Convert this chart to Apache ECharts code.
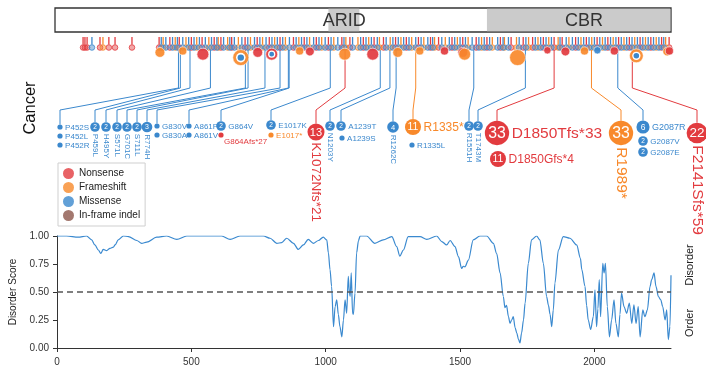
<!DOCTYPE html>
<html>
<head>
<meta charset="utf-8">
<script src="https://cdn.jsdelivr.net/npm/echarts@6/dist/echarts.min.js"></script>
<style>
html, body { margin: 0; padding: 0; background: #fff; }
#main { width: 706px; height: 367px; }
</style>
</head>
<body>
<div id="main"></div>
<script>
// ---- data ----
var proteinLength = 2285;
var xTicks = [0, 500, 1000, 1500, 2000];
var yTicks = [0, 0.25, 0.5, 0.75, 1.0];

var domainNames = ['ARID', 'CBR'];
var domainStart = [1010, 1600];
var domainEnd = [1128, 2285];

var mutTypes = ['Nonsense', 'Frameshift', 'Missense', 'In-frame indel'];

// small mutation ticks along the protein
var stemNonsense = [97, 104, 112, 160, 193, 216, 279, 380, 420, 455, 500, 540, 585, 610, 650, 700, 745, 790, 830, 880, 920, 965,
	1010, 1060, 1090, 1140, 1180, 1215, 1260, 1300, 1345, 1390, 1420, 1470, 1510, 1560, 1600, 1650, 1690, 1735, 1770, 1810,
	1850, 1880, 1930, 1970, 2010, 2050, 2090, 2130, 2170, 2210, 2250, 2278];
var stemFrameshift = [171, 395, 440, 480, 520, 565, 600, 635, 675, 720, 765, 810, 850, 900, 940, 985, 1030, 1075, 1120, 1160,
	1200, 1240, 1280, 1320, 1365, 1405, 1445, 1490, 1530, 1580, 1620, 1665, 1710, 1755, 1790, 1830, 1865, 1905, 1950, 1990,
	2030, 2070, 2110, 2150, 2190, 2230, 2265];
var stemMissense = [130, 388, 405, 430, 448, 468, 490, 510, 530, 552, 575, 595, 620, 643, 660, 688, 710, 735, 755, 778, 800,
	820, 840, 865, 890, 910, 930, 955, 975, 998, 1020, 1045, 1068, 1100, 1130, 1150, 1170, 1192, 1225, 1250, 1270, 1290, 1310,
	1335, 1355, 1380, 1398, 1432, 1460, 1480, 1500, 1520, 1545, 1570, 1590, 1610, 1640, 1660, 1680, 1720, 1745, 1780, 1800,
	1820, 1840, 1872, 1895, 1918, 1940, 1960, 1980, 2000, 2020, 2040, 2060, 2080, 2100, 2120, 2140, 2160, 2180, 2200, 2220,
	2240, 2258];

// recurrent positions drawn as bubbles on the track (-1 = no inner dot)
var bubbleRes = [383, 468, 543, 684, 747, 799, 903, 941, 1071, 1175, 1268, 1350, 1442, 1510, 1517, 1714, 1825, 1892, 1963, 2011, 2074, 2156, 2271, 2279];
var bubbleType = [1, 1, 0, 1, 0, 0, 1, 0, 1, 0, 1, 1, 0, 0, 1, 1, 0, 0, 1, 2, 0, 1, 1, 0];
var bubbleCount = [6, 3, 11, 25, 6, 11, 3, 4, 11, 11, 6, 3, 3, 6, 11, 25, 2, 4, 3, 2, 3, 17, 4, 3];
var bubbleCore = [-1, -1, -1, 2, -1, 2, -1, -1, -1, -1, -1, -1, -1, -1, -1, -1, -1, -1, -1, -1, -1, 2, -1, -1];

// labelled hotspots
var hotResidue = [452, 459, 495, 571, 701, 711, 774, 830, 861, 864, 1017, 1072, 1203, 1239, 1262, 1335, 1551, 1743, 1850, 1989, 2087, 2141];
var hotLabels = [
	['P452S', 'P452L', 'P452R'], ['P459L'], ['H495Y'], ['S571L'], ['G701C'], ['S711L'], ['R774H'],
	['G830V', 'G830A'], ['A861P', 'A861V'], ['G864V', 'G864Afs*27'], ['E1017K', 'E1017*'], ['K1072Nfs*21'],
	['N1203Y'], ['A1239T', 'A1239S'], ['R1262C'], ['R1335*', 'R1335L'], ['R1551H'], ['T1743M'],
	['D1850Tfs*33', 'D1850Gfs*4'], ['R1989*'], ['G2087R', 'G2087V', 'G2087E'], ['F2141Sfs*59']
];
var hotCounts = [
	[1, 1, 1], [2], [2], [2], [2], [2], [3], [1, 1], [1, 1], [2, 1], [2, 1], [13],
	[2], [2, 1], [4], [11, 1], [2], [2], [33, 11], [33], [6, 2, 2], [22]
];
var hotTypes = [
	[2, 2, 2], [2], [2], [2], [2], [2], [2], [2, 2], [2, 2], [2, 0], [2, 1], [0],
	[2], [2, 2], [2], [1, 2], [2], [2], [0, 0], [1], [2, 2, 2], [0]
];

// disorder prediction
var disorderPos = [0, 36, 79, 110, 129, 141, 154, 163, 172, 185, 197, 210, 216, 228, 247, 266, 297, 315, 334, 371, 408, 446,
	483, 557, 613, 644, 681, 768, 793, 818, 836, 855, 880, 898, 917, 935, 954, 973, 991, 1004, 1010, 1016, 1022, 1029, 1035,
	1041, 1047, 1053, 1060, 1066, 1072, 1078, 1084, 1088, 1091, 1095, 1100, 1103, 1109, 1115, 1122, 1128, 1152, 1183, 1214,
	1246, 1264, 1276, 1289, 1307, 1351, 1376, 1413, 1432, 1450, 1463, 1481, 1494, 1506, 1512, 1518, 1531, 1549, 1574, 1599,
	1624, 1636, 1649, 1661, 1667, 1673, 1680, 1686, 1692, 1698, 1705, 1711, 1717, 1723, 1729, 1736, 1742, 1754, 1766, 1785,
	1797, 1810, 1822, 1829, 1835, 1841, 1847, 1853, 1866, 1884, 1909, 1934, 1948, 1953, 1965, 1971, 1977, 1986, 1996, 2002,
	2008, 2013, 2018, 2023, 2031, 2036, 2041, 2048, 2056, 2064, 2073, 2080, 2089, 2095, 2101, 2110, 2120, 2130, 2139, 2147,
	2155, 2163, 2170, 2180, 2188, 2197, 2207, 2213, 2222, 2229, 2238, 2247, 2254, 2263, 2269, 2275, 2281, 2285];
var disorderScore = [1.0, 1.0, 0.99, 1.0, 0.965, 0.92, 0.875, 0.845, 0.88, 0.87, 0.89, 0.90, 0.92, 0.965, 1.0, 0.995, 0.96,
	0.935, 0.945, 0.99, 1.0, 0.97, 1.0, 1.0, 1.0, 0.97, 1.0, 1.0, 0.98, 0.935, 0.94, 0.98, 0.935, 0.88, 0.92, 0.97, 0.935,
	0.96, 0.99, 0.965, 0.85, 0.70, 0.55, 0.19, 0.37, 0.43, 0.30, 0.19, 0.10, 0.25, 0.43, 0.31, 0.64, 0.50, 0.46, 0.67, 0.31,
	0.30, 0.49, 0.85, 0.96, 1.0, 1.0, 0.935, 0.965, 0.995, 0.905, 0.82, 0.875, 0.995, 0.995, 0.97, 1.0, 0.95, 0.92, 0.96,
	0.905, 0.815, 0.71, 0.73, 0.725, 0.785, 0.965, 1.0, 1.0, 0.935, 0.845, 0.67, 0.46, 0.36, 0.38, 0.28, 0.22, 0.25, 0.28,
	0.18, 0.135, 0.08, 0.045, 0.135, 0.25, 0.40, 0.755, 0.965, 1.0, 0.965, 0.755, 0.46, 0.38, 0.30, 0.19, 0.34, 0.58, 0.875,
	0.995, 0.98, 0.92, 0.80, 0.70, 0.55, 0.38, 0.25, 0.165, 0.28, 0.52, 0.19, 0.35, 0.61, 0.28, 0.755, 0.67, 0.755, 0.37,
	0.10, 0.25, 0.43, 0.22, 0.10, 0.30, 0.49, 0.37, 0.31, 0.40, 0.22, 0.385, 0.22, 0.37, 0.10, 0.34, 0.28, 0.34, 0.55, 0.61,
	0.67, 0.55, 0.46, 0.43, 0.37, 0.25, 0.34, 0.075, 0.19, 0.65];
var disorderCut = 0.5;

// ---- layout (pixels) of the hotspot labels, parallel to hotLabels ----
var hotLayout = [
	[[60, 127, 'h'], [60, 136, 'h'], [60, 145, 'h']], [[95, 127, 'v']], [[106, 127, 'v']], [[117, 127, 'v']],
	[[127, 127, 'v']], [[137, 127, 'v']], [[147, 127, 'v']], [[157, 126, 'h'], [157, 135, 'h']],
	[[189, 126, 'h'], [189, 135, 'h']], [[221, 126, 'h'], [221, 135, 'd']], [[271, 125, 'h'], [271, 135, 'h']],
	[[316, 132, 'v']], [[330, 126, 'v']], [[341, 126, 'h'], [342, 138, 'h']], [[393, 127, 'v']],
	[[413, 127, 'h'], [412, 145, 'h']], [[469, 126, 'v']], [[478, 126, 'v']], [[497, 133, 'h'], [498, 159, 'h']],
	[[621, 133, 'v']], [[643, 127, 'h'], [643, 141, 'h'], [643, 152, 'h']], [[697, 133, 'v']]
];

var typeColors = ['#e23b3f', '#f8892b', '#3b88cd', '#8c564b'];
var FONT = 'Liberation Sans, Arial, sans-serif';

function tint(hex, a) {
	var n = parseInt(hex.slice(1), 16);
	return 'rgba(' + (n >> 16) + ',' + ((n >> 8) & 255) + ',' + (n & 255) + ',' + a + ')';
}
function labelRadius(n) { return n <= 1 ? 2.6 : 2.4 + 1.7 * Math.sqrt(n); }
function labelFont(n) { return n >= 20 ? 15.5 : n >= 13 ? 13.5 : n >= 10 ? 12 : n >= 5 ? 9 : 8; }
function bubbleRadius(n) { return 2 + 1.2 * Math.sqrt(n); }

var stemData = [];
stemNonsense.forEach(function(r) { stemData.push([r, 0]); });
stemFrameshift.forEach(function(r) { stemData.push([r, 1]); });
stemMissense.forEach(function(r) { stemData.push([r, 2]); });

var bubbleData = bubbleRes.map(function(r, i) { return [r, i]; });
var connectorData = hotResidue.map(function(r, g) { return [r, g]; });
var labelData = [];
hotLabels.forEach(function(list, g) {
	list.forEach(function(name, e) { labelData.push([hotResidue[g], g, e]); });
});
var domainData = domainNames.map(function(n, i) { return [domainStart[i], domainEnd[i], i]; });
var disorderData = disorderPos.map(function(p, i) { return [p, disorderScore[i]]; });

var chart = echarts.init(document.getElementById('main'));

var option = {
	animation: false,
	textStyle: { fontFamily: FONT },
	grid: [
		{ left: 57, right: 35, top: 0, height: 230 },
		{ left: 57, right: 35, top: 236, height: 112 }
	],
	xAxis: [
		{ gridIndex: 0, type: 'value', min: 0, max: proteinLength, show: false },
		{
			gridIndex: 1, type: 'value', min: 0, max: proteinLength, interval: 500, offset: 1,
			axisLine: { show: true, lineStyle: { color: '#333', width: 1 } },
			axisTick: { show: true, length: 4, lineStyle: { color: '#333' }, customValues: xTicks },
			axisLabel: { fontSize: 10, color: '#333', margin: 8, customValues: xTicks,
				formatter: function(v) { return String(v); } },
			splitLine: { show: false }
		}
	],
	yAxis: [
		{ gridIndex: 0, type: 'value', min: 0, max: 230, inverse: true, show: false },
		{
			gridIndex: 1, type: 'value', min: 0, max: 1, interval: 0.25, offset: 2,
			axisLine: { show: true, lineStyle: { color: '#333', width: 1 } },
			axisTick: { show: true, length: 4, lineStyle: { color: '#333' }, customValues: yTicks },
			axisLabel: {
				fontSize: 10, color: '#333', margin: 6, customValues: yTicks,
				formatter: function(v) { return v.toFixed(2); }
			},
			splitLine: { show: false },
			name: 'Disorder Score', nameLocation: 'middle', nameGap: 31,
			nameTextStyle: { fontSize: 10, color: '#222' }
		}
	],
	legend: {
		data: mutTypes,
		orient: 'vertical',
		left: 58, top: 163,
		icon: 'circle',
		itemWidth: 11, itemHeight: 11, itemGap: 3,
		padding: [5, 5, 5, 5],
		borderColor: '#cfcfcf', borderWidth: 1,
		textStyle: { fontSize: 10, color: '#222', fontFamily: FONT },
		selectedMode: false
	},
	graphic: [
		{ type: 'text', x: 30, y: 108, rotation: Math.PI / 2,
			style: { text: 'Cancer', x: 0, y: 0, fill: '#111', fontSize: 16.5, fontFamily: FONT, align: 'center', verticalAlign: 'middle' } },
		{ type: 'text', x: 690, y: 265, rotation: Math.PI / 2,
			style: { text: 'Disorder', x: 0, y: 0, fill: '#222', fontSize: 11, fontFamily: FONT, align: 'center', verticalAlign: 'middle' } },
		{ type: 'text', x: 690, y: 323, rotation: Math.PI / 2,
			style: { text: 'Order', x: 0, y: 0, fill: '#222', fontSize: 11, fontFamily: FONT, align: 'center', verticalAlign: 'middle' } }
	],
	series: [
		// protein box
		{
			type: 'custom', xAxisIndex: 0, yAxisIndex: 0, silent: true, z: 1,
			data: [[0, proteinLength]],
			renderItem: function(params, api) {
				var x0 = api.coord([api.value(0), 0])[0];
				var x1 = api.coord([api.value(1), 0])[0];
				return { type: 'rect', shape: { x: x0 - 2, y: 8, width: x1 - x0 + 2, height: 24 },
					style: { fill: '#fff', stroke: '#333', lineWidth: 1.3 } };
			}
		},
		// domains
		{
			type: 'custom', xAxisIndex: 0, yAxisIndex: 0, silent: true, z: 2,
			data: domainData,
			renderItem: function(params, api) {
				var x0 = api.coord([api.value(0), 0])[0];
				var x1 = api.coord([api.value(1), 0])[0];
				var i = api.value(2);
				return { type: 'group', children: [
					{ type: 'rect', shape: { x: x0, y: 8.7, width: x1 - x0 - 0.7, height: 22.6 }, style: { fill: '#cbcbcb' } },
					{ type: 'text', style: { text: domainNames[i], x: (x0 + x1) / 2 + (i === 1 ? 5 : 0), y: 21, fill: '#333',
						fontSize: 18, fontFamily: FONT, align: 'center', verticalAlign: 'middle' } }
				] };
			}
		},
		// connectors from track to labels
		{
			type: 'custom', xAxisIndex: 0, yAxisIndex: 0, silent: true, z: 3,
			data: connectorData,
			renderItem: function(params, api) {
				var mx = api.coord([api.value(0), 0])[0];
				var g = api.value(1);
				var lay = hotLayout[g][0];
				var r0 = labelRadius(hotCounts[g][0]);
				return { type: 'polyline',
					shape: { points: [[mx, 50], [mx, 88], [lay[0], 110], [lay[0], lay[1] - r0]] },
					style: { stroke: typeColors[hotTypes[g][0]], lineWidth: 1, fill: null } };
			}
		},
		// track ticks
		{
			type: 'custom', xAxisIndex: 0, yAxisIndex: 0, silent: true, z: 4,
			data: stemData,
			renderItem: function(params, api) {
				var mx = api.coord([api.value(0), 0])[0];
				var col = typeColors[api.value(1)];
				return { type: 'group', children: [
					{ type: 'line', shape: { x1: mx, y1: 37, x2: mx, y2: 44.5 }, style: { stroke: col, lineWidth: 1.3 } },
					{ type: 'circle', shape: { cx: mx, cy: 47.5, r: 2.8 }, style: { fill: tint(col, 0.45), stroke: col, lineWidth: 0.8 } }
				] };
			}
		},
		// track bubbles
		{
			type: 'custom', xAxisIndex: 0, yAxisIndex: 0, silent: true, z: 5,
			data: bubbleData,
			renderItem: function(params, api) {
				var mx = api.coord([api.value(0), 0])[0];
				var i = api.value(1);
				var r = bubbleRadius(bubbleCount[i]);
				var cy = 44 + r * 1.7;
				var col = typeColors[bubbleType[i]];
				var ch = [{ type: 'circle', shape: { cx: mx, cy: cy, r: r }, style: { fill: tint(col, 0.92), stroke: '#fff', lineWidth: 0.6 } }];
				if (bubbleCore[i] >= 0) {
					ch.push({ type: 'circle', shape: { cx: mx, cy: cy, r: r * 0.6 }, style: { fill: '#fff' } });
					ch.push({ type: 'circle', shape: { cx: mx, cy: cy, r: r * 0.4 }, style: { fill: typeColors[bubbleCore[i]] } });
				}
				return { type: 'group', children: ch };
			}
		},
		// hotspot labels
		{
			type: 'custom', xAxisIndex: 0, yAxisIndex: 0, silent: true, z: 6,
			data: labelData,
			renderItem: function(params, api) {
				var g = api.value(1), e = api.value(2);
				var n = hotCounts[g][e];
				var col = typeColors[hotTypes[g][e]];
				var name = hotLabels[g][e];
				var lay = hotLayout[g][e];
				var cx = lay[0], cy = lay[1], mode = lay[2];
				var r = labelRadius(n);
				var fs = labelFont(n);
				var ch = [{ type: 'circle', shape: { cx: cx, cy: cy, r: r }, style: { fill: col } }];
				if (n > 1) {
					ch.push({ type: 'text', style: { text: String(n), x: cx, y: cy + 0.5, fill: '#fff', fontSize: Math.max(6.5, r * 1.3),
						fontFamily: FONT, align: 'center', verticalAlign: 'middle' } });
				}
				if (mode === 'v') {
					ch.push({ type: 'text', x: cx, y: cy + r + 2, rotation: -Math.PI / 2,
						style: { text: name, x: 0, y: 0, fill: col, fontSize: fs, fontFamily: FONT, align: 'left', verticalAlign: 'middle' } });
				} else if (mode === 'h') {
					ch.push({ type: 'text', style: { text: name, x: cx + r + 2.5, y: cy + 0.5, fill: col, fontSize: fs, fontFamily: FONT,
						align: 'left', verticalAlign: 'middle' } });
				} else {
					ch.push({ type: 'text', style: { text: name, x: cx + 3, y: cy + 7, fill: col, fontSize: fs, fontFamily: FONT,
						align: 'left', verticalAlign: 'middle' } });
				}
				return { type: 'group', children: ch };
			}
		},
		// disorder score
		{
			type: 'line', xAxisIndex: 1, yAxisIndex: 1, silent: true, z: 3,
			data: disorderData,
			showSymbol: false, smooth: 0.3, smoothMonotone: 'x',
			lineStyle: { color: '#3a89cf', width: 1.2 },
			markLine: {
				silent: true, symbol: ['none', 'none'],
				label: { show: false },
				lineStyle: { color: '#555', width: 1.5, type: [6, 4] },
				data: [{ yAxis: disorderCut }]
			}
		}
	].concat(mutTypes.map(function(name, i) {
		return { type: 'scatter', name: name, xAxisIndex: 1, yAxisIndex: 1, data: [], itemStyle: { color: typeColors[i] } };
	}))
};

chart.setOption(option);
</script>
</body>
</html>
